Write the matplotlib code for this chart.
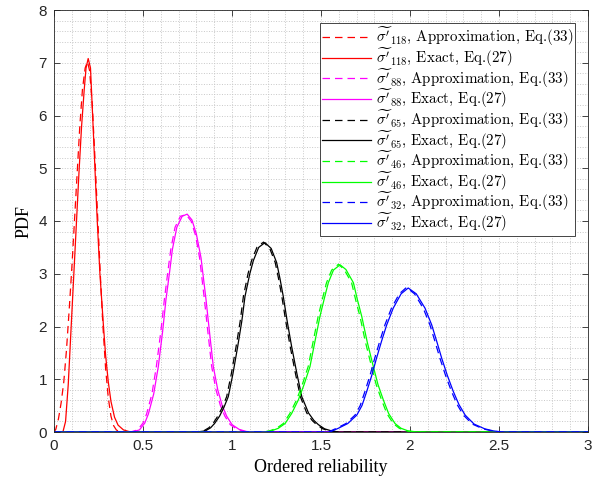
import numpy as np
import matplotlib
matplotlib.use("Agg")
import matplotlib.pyplot as plt
from matplotlib.ticker import MultipleLocator

plt.rcParams['mathtext.fontset'] = 'cm'

# values (x = ordered reliability, y = PDF)
red_apx_x = [0.0, 0.01, 0.025, 0.04, 0.055, 0.07, 0.085, 0.1, 0.115, 0.13, 0.145, 0.16, 0.175,
             0.188, 0.2, 0.215, 0.23, 0.245, 0.26, 0.275, 0.29, 0.305, 0.32, 0.335, 0.35, 0.37, 3.0]
red_apx_y = [0, 0.05, 0.25, 0.55, 0.95, 1.55, 2.3, 3.1, 4.0, 4.9, 5.8, 6.5, 6.9,
             7.02, 6.85, 6.2, 5.2, 4.1, 3.0, 2.0, 1.2, 0.65, 0.3, 0.12, 0.04, 0.0, 0]
red_ex_x = [0.0, 0.05, 0.065, 0.08, 0.095, 0.11, 0.125, 0.14, 0.155, 0.17, 0.18, 0.192, 0.205,
            0.217, 0.23, 0.243, 0.258, 0.277, 0.29, 0.305, 0.32, 0.34, 0.36, 0.39, 0.42, 0.44, 3.0]
red_ex_y = [0, 0, 0.2, 0.9, 1.9, 2.9, 3.9, 4.9, 5.8, 6.5, 6.9, 7.08, 6.9,
            6.0, 5.0, 4.0, 3.0, 2.05, 1.45, 0.95, 0.58, 0.28, 0.13, 0.04, 0.01, 0, 0]

mag_apx_x = [0, 0.43, 0.47, 0.50, 0.52, 0.55, 0.575, 0.60, 0.62, 0.64, 0.656, 0.68, 0.71, 0.742,
             0.77, 0.795, 0.818, 0.845, 0.866, 0.886, 0.91, 0.935, 0.96, 0.99, 1.03, 1.07, 1.11, 3]
mag_apx_y = [0, 0, 0.04, 0.17, 0.34, 0.72, 1.24, 1.9, 2.51, 3.05, 3.46, 3.88, 4.09, 4.12,
             4.0, 3.73, 3.3, 2.51, 1.85, 1.24, 0.8, 0.5, 0.3, 0.14, 0.05, 0.01, 0, 0]
mag_ex_x = [0, 0.44, 0.48, 0.51, 0.53, 0.56, 0.586, 0.61, 0.629, 0.65, 0.665, 0.69, 0.72, 0.748,
            0.775, 0.80, 0.826, 0.854, 0.875, 0.895, 0.92, 0.945, 0.97, 1.0, 1.04, 1.08, 1.12, 3]
mag_ex_y = [0, 0, 0.04, 0.17, 0.34, 0.72, 1.24, 1.9, 2.51, 3.05, 3.46, 3.88, 4.09, 4.13,
            4.02, 3.75, 3.3, 2.51, 1.85, 1.24, 0.8, 0.5, 0.3, 0.14, 0.05, 0.01, 0, 0]

blk_apx_x = [0, 0.79, 0.84, 0.87, 0.895, 0.92, 0.946, 0.97, 0.996, 1.023, 1.046, 1.064, 1.09, 1.11,
             1.14, 1.177, 1.212, 1.243, 1.262, 1.28, 1.302, 1.327, 1.357, 1.384, 1.42, 1.45,
             1.475, 1.51, 1.55, 1.59, 3]
blk_ex_x = [0, 0.80, 0.85, 0.88, 0.904, 0.93, 0.955, 0.979, 1.005, 1.032, 1.055, 1.073, 1.10, 1.12,
            1.15, 1.185, 1.22, 1.251, 1.27, 1.288, 1.31, 1.335, 1.365, 1.392, 1.43, 1.46,
            1.485, 1.52, 1.56, 1.60, 3]
blk_apx_y = [0, 0, 0.02, 0.08, 0.17, 0.3, 0.47, 0.67, 1.1, 1.62, 2.1, 2.57, 3.0, 3.25,
             3.5, 3.60, 3.48, 3.21, 2.9, 2.57, 2.1, 1.62, 1.1, 0.67, 0.36, 0.22,
             0.14, 0.06, 0.02, 0, 0]
blk_ex_y = [0, 0, 0.02, 0.08, 0.17, 0.3, 0.47, 0.67, 1.1, 1.62, 2.1, 2.57, 3.0, 3.25,
            3.5, 3.59, 3.48, 3.21, 2.9, 2.57, 2.1, 1.62, 1.1, 0.67, 0.36, 0.22,
            0.14, 0.06, 0.02, 0, 0]

grn_apx_x = [0, 1.17, 1.21, 1.25, 1.288, 1.325, 1.363, 1.395, 1.428, 1.455, 1.484, 1.51, 1.531,
             1.56, 1.598, 1.63, 1.672, 1.695, 1.719, 1.75, 1.784, 1.81, 1.84, 1.87, 1.906, 1.94,
             1.98, 2.02, 2.06, 3]
grn_ex_x = [0, 1.18, 1.22, 1.26, 1.298, 1.335, 1.373, 1.405, 1.438, 1.465, 1.494, 1.52, 1.541,
            1.57, 1.607, 1.64, 1.682, 1.705, 1.729, 1.76, 1.794, 1.82, 1.85, 1.88, 1.916, 1.95,
            1.99, 2.03, 2.07, 3]
grn_apx_y = [0, 0, 0.02, 0.07, 0.16, 0.35, 0.61, 0.9, 1.24, 1.7, 2.19, 2.55, 2.83,
             3.07, 3.18, 3.08, 2.83, 2.5, 2.19, 1.7, 1.24, 0.9, 0.61, 0.35, 0.16, 0.07,
             0.02, 0.005, 0, 0]
grn_ex_y = [0, 0, 0.02, 0.07, 0.16, 0.35, 0.61, 0.9, 1.24, 1.7, 2.19, 2.55, 2.83,
            3.07, 3.17, 3.08, 2.83, 2.5, 2.19, 1.7, 1.24, 0.9, 0.61, 0.35, 0.16, 0.07,
            0.02, 0.005, 0, 0]

blu_apx_x = [0, 1.54, 1.587, 1.64, 1.691, 1.72, 1.747, 1.775, 1.802, 1.83, 1.859, 1.896, 1.94,
             1.98, 2.025, 2.074, 2.112, 2.14, 2.168, 2.2, 2.233, 2.265, 2.30, 2.35, 2.41, 2.46,
             2.51, 3]
blu_ex_x = [0, 1.55, 1.597, 1.65, 1.701, 1.73, 1.757, 1.785, 1.812, 1.84, 1.869, 1.906, 1.95,
            1.99, 2.035, 2.084, 2.122, 2.15, 2.178, 2.21, 2.243, 2.275, 2.31, 2.36, 2.42, 2.47,
            2.52, 3]
blu_apx_y = [0, 0, 0.07, 0.16, 0.32, 0.5, 0.77, 1.07, 1.40, 1.72, 2.03, 2.35, 2.62,
             2.74, 2.62, 2.35, 2.03, 1.72, 1.40, 1.07, 0.77, 0.52, 0.32, 0.15, 0.06, 0.02, 0, 0]
blu_ex_y = [0, 0, 0.07, 0.16, 0.32, 0.5, 0.77, 1.07, 1.40, 1.72, 2.03, 2.35, 2.62,
            2.73, 2.62, 2.35, 2.03, 1.72, 1.40, 1.07, 0.77, 0.52, 0.32, 0.15, 0.06, 0.02, 0, 0]

orders = ['118', '88', '65', '46', '32']
colors = ['#ff0000', '#ff00ff', '#000000', '#00ff00', '#0000ff']
curves = [
    (red_apx_x, red_apx_y, red_ex_x, red_ex_y),
    (mag_apx_x, mag_apx_y, mag_ex_x, mag_ex_y),
    (blk_apx_x, blk_apx_y, blk_ex_x, blk_ex_y),
    (grn_apx_x, grn_apx_y, grn_ex_x, grn_ex_y),
    (blu_apx_x, blu_apx_y, blu_ex_x, blu_ex_y),
]
xticks = [0, 0.5, 1, 1.5, 2, 2.5, 3]
xtick_labels = ['0', '0.5', '1', '1.5', '2', '2.5', '3']
yticks = [0, 1, 2, 3, 4, 5, 6, 7, 8]


def main():
    fig = plt.figure(figsize=(6.02, 4.87), dpi=100)
    ax = fig.add_axes([54 / 602, 55 / 487, 534 / 602, 422 / 487])

    for (ax_x, ax_y, ex_x, ex_y), n, c in zip(curves, orders, colors):
        ax.plot(ax_x, ax_y, color=c, lw=0.9, linestyle=(0, (6, 4)),
                label=r"$\widetilde{\sigma'}_{%s}$, Approximation, Eq.(33)" % n)
        ax.plot(ex_x, ex_y, color=c, lw=0.9,
                label=r"$\widetilde{\sigma'}_{%s}$, Exact, Eq.(27)" % n)

    ax.set_xlim(0, 3)
    ax.set_ylim(0, 8)
    ax.set_xticks(xticks)
    ax.set_xticklabels(xtick_labels)
    ax.set_yticks(yticks)
    ax.xaxis.set_minor_locator(MultipleLocator(0.1))
    ax.yaxis.set_minor_locator(MultipleLocator(0.2))
    ax.grid(which='both', color='#c8c8c8', linestyle=':', linewidth=0.7)
    ax.set_axisbelow(True)
    ax.tick_params(which='major', direction='in', top=True, right=True,
                   length=4, width=0.6, color='#262626', pad=5)
    ax.tick_params(which='minor', length=0)
    for lab in ax.get_xticklabels() + ax.get_yticklabels():
        lab.set_fontfamily('Liberation Sans')
        lab.set_fontsize(11)
        lab.set_color('#262626')
    for s in ax.spines.values():
        s.set_linewidth(0.6)
        s.set_color('#262626')

    ax.set_xlabel('Ordered reliability', family='Liberation Serif', fontsize=13)
    ax.set_ylabel('PDF', family='Liberation Serif', fontsize=13)

    leg = ax.legend(loc='upper right', prop={'family': 'cmr10', 'size': 10.8},
                    handlelength=3.3, labelspacing=-0.22, borderaxespad=0.85,
                    fancybox=False, framealpha=1, edgecolor='#262626',
                    borderpad=0.12, handletextpad=0.3)
    leg.get_frame().set_linewidth(0.6)

    fig.savefig('out.png', dpi=100)


if __name__ == '__main__':
    main()
